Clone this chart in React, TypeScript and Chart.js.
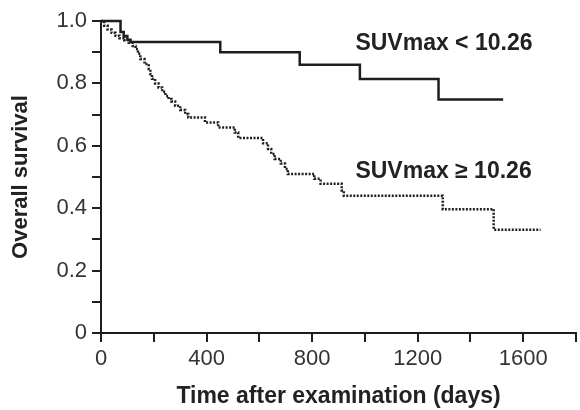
import React, { useEffect, useRef } from "react";
import { Chart, registerables } from "chart.js";

Chart.register(...registerables);

// Kaplan-Meier curves (day of event, survival after event)
const lowDays = [0, 74, 86, 100, 112, 452, 753, 981, 1279, 1524];
const lowSurv = [1.0, 0.965, 0.952, 0.94, 0.933, 0.9, 0.86, 0.814, 0.748, 0.748];

const highDays = [
  0, 12, 25, 40, 55, 70, 88, 105, 120, 131, 140, 149, 165, 181, 187, 193, 205, 218, 232, 244, 256, 267, 281,
  300, 319, 331, 394, 444, 507, 520, 614, 633, 645, 658, 681, 697, 708, 808, 832, 912, 920, 1295, 1488, 1666,
];
const highSurv = [
  1.0, 0.985, 0.973, 0.962, 0.953, 0.945, 0.938, 0.93, 0.92, 0.91, 0.895, 0.878, 0.862, 0.846, 0.83, 0.815,
  0.8, 0.787, 0.773, 0.76, 0.75, 0.742, 0.728, 0.715, 0.702, 0.691, 0.675, 0.659, 0.643, 0.625, 0.608, 0.59,
  0.574, 0.558, 0.543, 0.526, 0.51, 0.494, 0.478, 0.457, 0.44, 0.397, 0.331, 0.331,
];

const xTickLabels = [0, 400, 800, 1200, 1600];
const yTickLabels = [0, 0.2, 0.4, 0.6, 0.8, 1.0];

const seriesLabels = ["SUVmax < 10.26", "SUVmax \u2265 10.26"];
const labelDays = [964, 964];
const labelSurv = [0.928, 0.517];

const FONT = '"Liberation Sans", Arial, sans-serif';
const INK = "#1e1e1e";

export default function App() {
  const ref = useRef<HTMLCanvasElement | null>(null);

  useEffect(() => {
    if (!ref.current) return;
    const toPts = (d: number[], s: number[]) => d.map((x, i) => ({ x, y: s[i] }));

    const labelPlugin = {
      id: "curveLabels",
      afterDatasetsDraw(chart: any) {
        const { ctx, scales } = chart;
        ctx.save();
        ctx.font = `bold 23px ${FONT}`;
        ctx.fillStyle = "#222";
        ctx.textAlign = "left";
        ctx.textBaseline = "middle";
        seriesLabels.forEach((t, i) => {
          ctx.fillText(t, scales.x.getPixelForValue(labelDays[i]), scales.y.getPixelForValue(labelSurv[i]));
        });
        ctx.restore();
      },
    };

    const chart = new Chart(ref.current, {
      type: "line",
      data: {
        datasets: [
          {
            label: seriesLabels[0],
            data: toPts(lowDays, lowSurv),
            stepped: "before",
            borderColor: INK,
            borderWidth: 2.5,
            pointRadius: 0,
            fill: false,
            clip: false as any,
          },
          {
            label: seriesLabels[1],
            data: toPts(highDays, highSurv),
            stepped: "before",
            borderColor: INK,
            borderWidth: 2.5,
            borderDash: [2, 1.5],
            pointRadius: 0,
            fill: false,
            clip: false as any,
          },
        ],
      },
      options: {
        responsive: false,
        animation: false,
        devicePixelRatio: 1,
        layout: { padding: { top: 21, right: 1, left: 0, bottom: 0 } },
        plugins: { legend: { display: false }, tooltip: { enabled: false } },
        scales: {
          x: {
            type: "linear",
            min: 0,
            max: 1800,
            ticks: {
              stepSize: 200,
              autoSkip: false,
              maxRotation: 0,
              color: "#333",
              font: { family: FONT, size: 22 },
              padding: 4,
              callback: (v: any) => (xTickLabels.includes(Number(v)) ? String(v) : ""),
            },
            grid: { drawOnChartArea: false, drawTicks: true, tickLength: 9, color: INK, lineWidth: 2 },
            border: { display: true, color: INK, width: 2 },
            title: {
              display: true,
              text: "Time after examination (days)",
              color: "#222",
              font: { family: FONT, size: 23, weight: "bold" },
              padding: { top: 4, bottom: 0 },
            },
            afterFit: (s: any) => {
              s.height = 77;
            },
          },
          y: {
            type: "linear",
            min: 0,
            max: 1,
            ticks: {
              stepSize: 0.1,
              autoSkip: false,
              color: "#333",
              font: { family: FONT, size: 22 },
              padding: 5,
              callback: (v: any) => {
                const n = Math.round(Number(v) * 10) / 10;
                const hit = yTickLabels.find((t) => Math.abs(t - n) < 1e-6);
                if (hit === undefined) return "";
                return hit === 0 ? "0" : hit.toFixed(1);
              },
            },
            grid: { drawOnChartArea: false, drawTicks: true, tickLength: 9, color: INK, lineWidth: 2 },
            border: { display: true, color: INK, width: 2 },
            title: {
              display: true,
              text: "Overall survival",
              color: "#222",
              font: { family: FONT, size: 22, weight: "bold" },
              padding: { top: 8, bottom: 0 },
            },
            afterFit: (s: any) => {
              s.width = 101;
            },
          },
        },
      },
      plugins: [labelPlugin],
    } as any);

    return () => chart.destroy();
  }, []);

  return (
    <div style={{ position: "fixed", left: 0, top: 0, width: 580, height: 410, background: "#fff" }}>
      <canvas ref={ref} width={580} height={410} style={{ width: 580, height: 410 }} />
    </div>
  );
}
